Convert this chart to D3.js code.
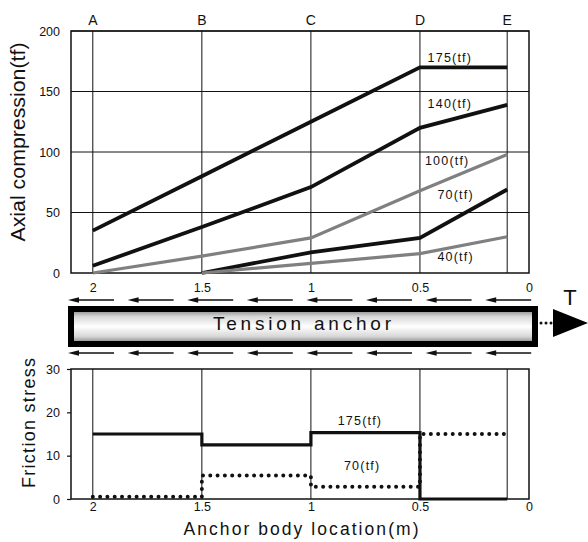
<!DOCTYPE html>
<html>
<head>
<meta charset="utf-8">
<script src="https://cdn.jsdelivr.net/npm/d3@7"></script>
<style>
body { margin: 0; background: #fff; }
text { font-family: "Liberation Sans", Arial, sans-serif; fill: #111; }
</style>
</head>
<body>
<svg id="chart" width="588" height="542"></svg>
<script>
// sections A-E and their location along the anchor body (m)
var sections = ["A", "B", "C", "D", "E"];
var sectionPos = [2, 1.5, 1, 0.5, 0.1];
var xTicks = [2, 1.5, 1, 0.5, 0];
var axialTicks = [0, 50, 100, 150, 200];
var frictionTicks = [0, 10, 20, 30];

var loads = ["175(tf)", "140(tf)", "100(tf)", "70(tf)", "40(tf)"];
var axial175 = [35, 80, 125, 170, 170];
var axial140 = [6, 38, 71, 120, 139];
var axial100 = [0, 14, 29, 68, 98];
var axial70 = [null, 0, 17, 29, 69];
var axial40 = [null, 0, 8, 16, 30];

var frictionLoads = ["175(tf)", "70(tf)"];
var friction175 = [15, 12.5, 15.3, 0, 0];
var friction70 = [0.5, 5.4, 2.8, 15, 15];

var svg = d3.select("#chart");

var x = d3.scaleLinear().domain([2.1, 0]).range([71, 529]);
var yA = d3.scaleLinear().domain([0, 200]).range([273, 31]);
var yF = d3.scaleLinear().domain([0, 30]).range([499, 369]);

// ---------- top panel: axial compression ----------
var topG = svg.append("g");

topG.selectAll(".hgrid")
  .data(axialTicks.slice(1))
  .enter().append("line")
  .attr("x1", x(2.1)).attr("x2", x(0))
  .attr("y1", function(d) { return yA(d); })
  .attr("y2", function(d) { return yA(d); })
  .attr("stroke", "#111").attr("stroke-width", 1);

topG.selectAll(".vgrid")
  .data(sectionPos)
  .enter().append("line")
  .attr("x1", function(d) { return x(d); })
  .attr("x2", function(d) { return x(d); })
  .attr("y1", yA(200)).attr("y2", yA(0))
  .attr("stroke", "#111").attr("stroke-width", 1);

topG.append("rect")
  .attr("x", x(2.1)).attr("y", yA(200))
  .attr("width", x(0) - x(2.1)).attr("height", yA(0) - yA(200))
  .attr("fill", "none").attr("stroke", "#111").attr("stroke-width", 1.5);

topG.selectAll(".sec")
  .data(sections)
  .enter().append("text")
  .attr("x", function(d, i) { return x(sectionPos[i]); })
  .attr("y", 24.5)
  .attr("text-anchor", "middle")
  .attr("font-size", "14px")
  .text(function(d) { return d; });

topG.append("g")
  .attr("transform", "translate(" + x(2.1) + ",0)")
  .call(d3.axisLeft(yA).tickValues(axialTicks).tickSize(0).tickPadding(11))
  .call(function(g) { g.select(".domain").remove(); })
  .selectAll("text")
  .attr("font-size", "12.5px")
  .style("font-family", "'Liberation Sans', Arial, sans-serif");

topG.append("g")
  .attr("transform", "translate(0," + 283 + ")")
  .call(d3.axisBottom(x).tickValues(xTicks).tickSize(0).tickPadding(0).tickFormat(d3.format("")))
  .call(function(g) { g.select(".domain").remove(); })
  .selectAll("text")
  .attr("font-size", "12.5px")
  .style("font-family", "'Liberation Sans', Arial, sans-serif");

topG.append("text")
  .attr("transform", "translate(25,142) rotate(-90)")
  .attr("text-anchor", "middle")
  .attr("font-size", "20px")
  .attr("textLength", 199).attr("lengthAdjust", "spacingAndGlyphs")
  .text("Axial compression(tf)");

var axialSeries = [axial175, axial140, axial100, axial70, axial40];
var axialColor = ["#111", "#111", "#808080", "#111", "#808080"];
var axialWidth = [3.8, 3.8, 3.2, 3.8, 3.2];

var axialLine = d3.line()
  .defined(function(d) { return d != null; })
  .x(function(d, i) { return x(sectionPos[i]); })
  .y(function(d) { return yA(d); });

topG.selectAll(".axial")
  .data(axialSeries)
  .enter().append("path")
  .attr("fill", "none")
  .attr("stroke", function(d, i) { return axialColor[i]; })
  .attr("stroke-width", function(d, i) { return axialWidth[i]; })
  .attr("d", axialLine);

// label anchors (location, value) near section D
var labelPos = [[0.465, 178], [0.465, 140], [0.477, 93], [0.42, 65], [0.42, 13.5]];
topG.selectAll(".load")
  .data(loads)
  .enter().append("text")
  .attr("x", function(d, i) { return x(labelPos[i][0]); })
  .attr("y", function(d, i) { return yA(labelPos[i][1]); })
  .attr("dy", "0.35em")
  .attr("font-size", "12.5px")
  .attr("letter-spacing", "1.2px")
  .text(function(d) { return d; });

// ---------- middle: tension anchor ----------
var mid = svg.append("g");
var defs = svg.append("defs");
var grad = defs.append("linearGradient")
  .attr("id", "bodyGrad").attr("x1", 0).attr("x2", 0).attr("y1", 0).attr("y2", 1);
grad.append("stop").attr("offset", "0%").attr("stop-color", "#7a7a7a");
grad.append("stop").attr("offset", "22%").attr("stop-color", "#d8d8d8");
grad.append("stop").attr("offset", "50%").attr("stop-color", "#ffffff");
grad.append("stop").attr("offset", "78%").attr("stop-color", "#d8d8d8");
grad.append("stop").attr("offset", "100%").attr("stop-color", "#7a7a7a");

mid.append("rect")
  .attr("x", 71).attr("y", 309)
  .attr("width", 464).attr("height", 35)
  .attr("fill", "url(#bodyGrad)")
  .attr("stroke", "#000").attr("stroke-width", 6);

mid.append("text")
  .attr("x", 302).attr("y", 330)
  .attr("text-anchor", "middle")
  .attr("font-size", "19px")
  .attr("textLength", 178).attr("lengthAdjust", "spacing")
  .text("Tension anchor");

var arrowStarts = d3.range(8).map(function(i) { return 68 + i * 59.6; });
[300, 353].forEach(function(ay) {
  mid.selectAll(null)
    .data(arrowStarts)
    .enter().append("g")
    .each(function(d) {
      var g = d3.select(this);
      g.append("line")
        .attr("x1", d + 6).attr("x2", d + 46)
        .attr("y1", ay).attr("y2", ay)
        .attr("stroke", "#111").attr("stroke-width", 1.5);
      g.append("path")
        .attr("d", "M" + d + "," + ay + "L" + (d + 11) + "," + (ay - 2.8) + "L" + (d + 11) + "," + (ay + 2.8) + "Z")
        .attr("fill", "#111");
    });
});

mid.append("line")
  .attr("x1", 541).attr("x2", 556).attr("y1", 323).attr("y2", 323)
  .attr("stroke", "#111").attr("stroke-width", 3)
  .attr("stroke-dasharray", "0,5").attr("stroke-linecap", "round");
mid.append("path")
  .attr("d", "M553,309L588,323L553,337Z")
  .attr("fill", "#000");
mid.append("text")
  .attr("x", 570).attr("y", 305)
  .attr("text-anchor", "middle")
  .attr("font-size", "22px")
  .text("T");

// ---------- bottom panel: friction stress ----------
var bot = svg.append("g");

bot.selectAll(".vgrid")
  .data(sectionPos)
  .enter().append("line")
  .attr("x1", function(d) { return x(d); })
  .attr("x2", function(d) { return x(d); })
  .attr("y1", yF(30)).attr("y2", yF(0))
  .attr("stroke", "#111").attr("stroke-width", 1);

bot.append("rect")
  .attr("x", x(2.1)).attr("y", yF(30))
  .attr("width", x(0) - x(2.1)).attr("height", yF(0) - yF(30))
  .attr("fill", "none").attr("stroke", "#111").attr("stroke-width", 1.5);

bot.append("g")
  .attr("transform", "translate(" + x(2.1) + ",0)")
  .call(d3.axisLeft(yF).tickValues(frictionTicks).tickSize(4).tickPadding(7))
  .call(function(g) { g.select(".domain").remove(); })
  .call(function(g) { g.selectAll("line").attr("stroke", "#111").attr("stroke-width", 1.2); })
  .selectAll("text")
  .attr("font-size", "12.5px")
  .style("font-family", "'Liberation Sans', Arial, sans-serif");

bot.append("g")
  .attr("transform", "translate(0," + 502 + ")")
  .call(d3.axisBottom(x).tickValues(xTicks).tickSize(0).tickPadding(0).tickFormat(d3.format("")))
  .call(function(g) { g.select(".domain").remove(); })
  .selectAll("text")
  .attr("font-size", "12.5px")
  .style("font-family", "'Liberation Sans', Arial, sans-serif");

bot.append("text")
  .attr("transform", "translate(35,423) rotate(-90)")
  .attr("text-anchor", "middle")
  .attr("font-size", "18px")
  .attr("textLength", 130).attr("lengthAdjust", "spacing")
  .text("Friction stress");

bot.append("text")
  .attr("x", 301).attr("y", 535)
  .attr("text-anchor", "middle")
  .attr("font-size", "17.5px")
  .attr("textLength", 235).attr("lengthAdjust", "spacing")
  .text("Anchor body location(m)");

var stepLine = d3.line()
  .curve(d3.curveStepAfter)
  .x(function(d, i) { return x(sectionPos[i]); })
  .y(function(d) { return yF(d); });

bot.append("path")
  .attr("fill", "none").attr("stroke", "#111").attr("stroke-width", 4)
  .attr("stroke-dasharray", "0,7.3").attr("stroke-linecap", "round")
  .attr("d", stepLine(friction70));

bot.append("path")
  .attr("fill", "none").attr("stroke", "#111").attr("stroke-width", 3.2)
  .attr("d", stepLine(friction175));

var fLabelPos = [[0.775, 18.0], [0.765, 7.6]];
bot.selectAll(".fload")
  .data(frictionLoads)
  .enter().append("text")
  .attr("x", function(d, i) { return x(fLabelPos[i][0]); })
  .attr("y", function(d, i) { return yF(fLabelPos[i][1]); })
  .attr("dy", "0.35em")
  .attr("text-anchor", "middle")
  .attr("font-size", "12.5px")
  .attr("letter-spacing", "1.2px")
  .text(function(d) { return d; });
</script>
</body>
</html>
